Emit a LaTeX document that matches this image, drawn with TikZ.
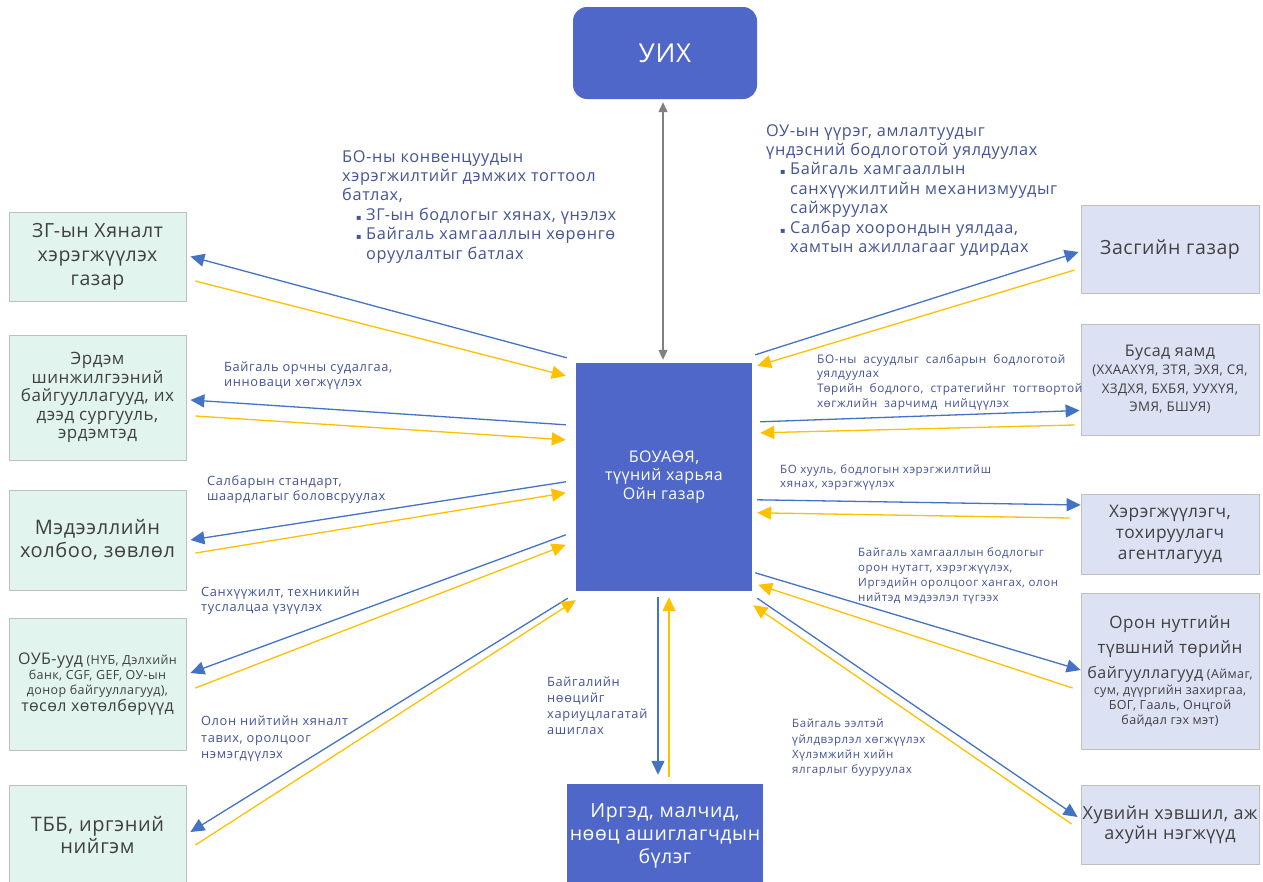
\documentclass[tikz,border=0pt]{standalone}
\usepackage{fontspec}
\setmainfont[LetterSpace=3]{Open Sans}
\newfontfamily\labf[LetterSpace=5]{Open Sans}
\newfontfamily\midf[LetterSpace=4]{Open Sans}
\newfontfamily\symf{DejaVu Sans}
\usetikzlibrary{arrows.meta}
\definecolor{boxblue}{RGB}{79,103,200}
\definecolor{arrblue}{RGB}{68,114,196}
\definecolor{arryel}{RGB}{255,192,0}
\definecolor{mint}{RGB}{226,244,238}
\definecolor{lav}{RGB}{221,225,244}
\definecolor{bordg}{RGB}{191,191,191}
\definecolor{txtg}{RGB}{64,64,64}
\definecolor{labc}{RGB}{68,84,150}
\definecolor{grayarr}{RGB}{128,128,128}
\newcommand{\fs}[2]{\fontsize{#1}{#2}\selectfont}
\newcommand{\bul}{\makebox[10pt][l]{\symf\fontsize{8}{8}\selectfont ▪}}
\newcommand{\widesp}{\spaceskip 7pt\relax}
\begin{document}
\begin{tikzpicture}[x=1pt,y=-1pt,
  lbox/.style={draw=bordg, line width=0.8pt, fill=mint, text=txtg, align=center, inner sep=0pt, minimum width=177pt},
  rbox/.style={draw=bordg, line width=0.8pt, fill=lav, text=txtg, align=center, inner sep=0pt, minimum width=178pt},
  bbox/.style={fill=boxblue, text=white, align=center, inner sep=0pt},
  lab/.style={text=labc, align=left, anchor=north west, inner sep=0pt},
  bl/.style={draw=arrblue, line width=1.3pt, -{Triangle[length=14pt,width=13pt]}},
  yl/.style={draw=arryel, line width=1.3pt, -{Triangle[length=14pt,width=13pt]}},
  ga/.style={draw=grayarr, line width=1.2pt, {Triangle[length=10pt,width=9pt]}-{Triangle[length=10pt,width=9pt]}}]
\useasboundingbox (0,0) rectangle (1263,881);
\fill[white] (0,0) rectangle (1263,881);

% central boxes
\node[bbox, minimum width=184pt, minimum height=92pt, rounded corners=14pt, font=\fs{26}{30}] (u) at (665,53) {УИХ};
\node[bbox, minimum width=176pt, minimum height=228pt, font=\fs{16}{18.5}] (c) at (664,477) {БОУАӨЯ,\\ түүний харьяа\\ Ойн газар};
\node[bbox, minimum width=196pt, minimum height=104pt, font=\fs{19.5}{23}] (b) at (665,836) {Иргэд, малчид,\\ нөөц ашиглагчдын\\ бүлэг};

% left boxes
\node[lbox, minimum height=89pt, font=\fs{19.5}{24}] (l1) at (97.5,256.5) {ЗГ-ын Хяналт\\ хэрэгжүүлэх\\ газар};
\node[lbox, minimum height=125pt, font=\fs{17}{18.5}] (l2) at (97.5,397.5) {Эрдэм\\ шинжилгээний\\ байгууллагууд, их\\ дээд сургууль,\\ эрдэмтэд};
\node[lbox, minimum height=100pt, font=\fs{20}{23}] (l3) at (97.5,540) {Мэдээллийн\\ холбоо, зөвлөл};
\node[lbox, minimum height=132pt, font=\fs{12.5}{15}] (l4) at (97.5,684) {{\fs{16}{15}ОУБ-ууд} (НҮБ, Дэлхийн\\ банк, CGF, GEF, ОУ-ын\\ донор байгууллагууд),\\ {\fs{16}{15}төсөл хөтөлбөрүүд}};
\node[lbox, minimum height=100pt, font=\fs{20}{22}] (l5) at (97.5,835) {ТББ, иргэний\\ нийгэм};

% right boxes
\node[rbox, minimum height=88pt, font=\fs{19.5}{22}] (r1) at (1170,249) {Засгийн газар};
\node[rbox, minimum height=111pt, font=\fs{13.3}{18.5}] (r2) at (1170,379.5) {{\fs{16}{19}Бусад яамд}\\ (ХХААХҮЯ, ЗТЯ, ЭХЯ, СЯ,\\ ХЗДХЯ, БХБЯ, УУХҮЯ,\\ ЭМЯ, БШУЯ)};
\node[rbox, minimum height=80pt, font=\fs{17.3}{21}] (r3) at (1170,534) {Хэрэгжүүлэгч,\\ тохируулагч\\ агентлагууд};
\node[rbox, minimum height=156pt, font=\fs{12.5}{15}] (r4) at (1170,671) {{\fs{17}{22}Орон нутгийн}\\[7pt] {\fs{17}{22}түвшний төрийн}\\[8pt] {\fs{16}{22}байгууллагууд} (Аймаг,\\[1pt] сум, дүүргийн захиргаа,\\ БОГ, Гааль, Онцгой\\ байдал гэх мэт)};
\node[rbox, minimum height=79pt, font=\fs{18}{20}] (r5) at (1170,824.5) {Хувийн хэвшил, аж\\ ахуйн нэгжүүд};

% vertical connectors
\draw[ga] ([shift={(-2,3)}]u.south) -- ([shift={(-1,-3)}]c.north);
\draw[bl] ([shift={(-6,6)}]c.south) -- ([shift={(-7,-9)}]b.north);
\draw[yl] ([shift={(4,-7)}]b.north) -- ([shift={(5,6)}]c.south);

% left connectors
\draw[bl] ([shift={(-9,-5)}]c.north west) -- ([shift={(4,0)}]l1.east);
\draw[yl] ([shift={(9,24.5)}]l1.east) -- ([shift={(-10,13)}]c.north west);
\draw[bl] ([shift={(-10,62)}]c.north west) -- ([shift={(4,2.5)}]l2.east);
\draw[yl] ([shift={(9,18.5)}]l2.east) -- ([shift={(-10,77)}]c.north west);
\draw[bl] ([shift={(-10,119)}]c.north west) -- ([shift={(4,0)}]l3.east);
\draw[yl] ([shift={(9,13)}]l3.east) -- ([shift={(-10,130)}]c.north west);
\draw[bl] ([shift={(-10,172)}]c.north west) -- ([shift={(4,-11)}]l4.east);
\draw[yl] ([shift={(9,4)}]l4.east) -- ([shift={(-10,182)}]c.north west);
\draw[bl] ([shift={(-8,7)}]c.south west) -- ([shift={(4,-3)}]l5.east);
\draw[yl] ([shift={(9,10)}]l5.east) -- ([shift={(0,9)}]c.south west);

% right connectors
\draw[bl] ([shift={(3,-8)}]c.north east) -- ([shift={(-2,3)}]r1.west);
\draw[yl] ([shift={(-6,21)}]r1.west) -- ([shift={(5,3)}]c.north east);
\draw[bl] ([shift={(8,59)}]c.north east) -- ([shift={(-1,31)}]r2.west);
\draw[yl] ([shift={(-6,45.5)}]r2.west) -- ([shift={(8,70)}]c.north east);
\draw[bl] ([shift={(5,137)}]c.north east) -- ([shift={(0,-29)}]r3.west);
\draw[yl] ([shift={(-11,-16)}]r3.west) -- ([shift={(5,150)}]c.north east);
\draw[bl] ([shift={(3,210)}]c.north east) -- ([shift={(0,-1)}]r4.west);
\draw[yl] ([shift={(-8,17)}]r4.west) -- ([shift={(6,222)}]c.north east);
\draw[bl] ([shift={(5,7)}]c.south east) -- ([shift={(-3,-7.5)}]r5.west);
\draw[yl] ([shift={(-9,-0.5)}]r5.west) -- ([shift={(1,14)}]c.south east);

% labels
\node[lab, font=\midf\fs{16.3}{19.4}] (t1) at (342,150) {БО-ны конвенцуудын\\
хэрэгжилтийг дэмжих тогтоол\\
батлах,\\
\hspace*{14pt}\bul ЗГ-ын бодлогыг хянах, үнэлэх\\
\hspace*{14pt}\bul Байгаль хамгааллын хөрөнгө\\
\hspace*{24pt}оруулалтыг батлах};
\node[lab, font=\midf\fs{16.3}{19.4}] (t2) at (766,124) {ОУ-ын үүрэг, амлалтуудыг\\
үндэсний бодлоготой уялдуулах\\
\hspace*{14pt}\bul Байгаль хамгааллын\\
\hspace*{24pt}санхүүжилтийн механизмуудыг\\
\hspace*{24pt}сайжруулах\\
\hspace*{14pt}\bul Салбар хоорондын уялдаа,\\
\hspace*{24pt}хамтын ажиллагааг удирдах};

\node[lab, font=\labf\fs{12.8}{15}] (s1) at (224,362) {Байгаль орчны судалгаа,\\ инноваци хөгжүүлэх};
\node[lab, font=\labf\fs{12.8}{15}] (s2) at (207,475) {Салбарын стандарт,\\ шаардлагыг боловсруулах};
\node[lab, font=\labf\fs{12.8}{15}] (s3) at (201,587) {Санхүүжилт, техникийн\\ туслалцаа үзүүлэх};
\node[lab, font=\labf\fs{12.8}{16.5}] (s4) at (201,716) {Олон нийтийн хяналт\\ тавих, оролцоог\\ нэмэгдүүлэх};
\node[lab, font=\labf\fs{12.8}{16}] (s5) at (547,677) {Байгалийн\\ нөөцийг\\ хариуцлагатай\\ ашиглах};
\node[lab, font=\labf\fs{11.8}{14.7}\widesp] (s6) at (817,354) {БО-ны асуудлыг салбарын бодлоготой\\ уялдуулах\\ Төрийн бодлого, стратегийнг тогтвортой\\ хөгжлийн зарчимд нийцүүлэх};
\node[lab, font=\labf\fs{11.5}{14.5}] (s7) at (780,464) {БО хууль, бодлогын хэрэгжилтийш\\ хянах, хэрэгжүүлэх};
\node[lab, font=\labf\fs{11.5}{15}] (s8) at (858,547) {Байгаль хамгааллын бодлогыг\\ орон нутагт, хэрэгжүүлэх,\\ Иргэдийн оролцоог хангах, олон\\ нийтэд мэдээлэл түгээх};
\node[lab, font=\labf\fs{11.5}{15.3}] (s9) at (792,719) {Байгаль ээлтэй\\ үйлдвэрлэл хөгжүүлэх\\ Хүлэмжийн хийн\\ ялгарлыг бууруулах};
\end{tikzpicture}
\end{document}
